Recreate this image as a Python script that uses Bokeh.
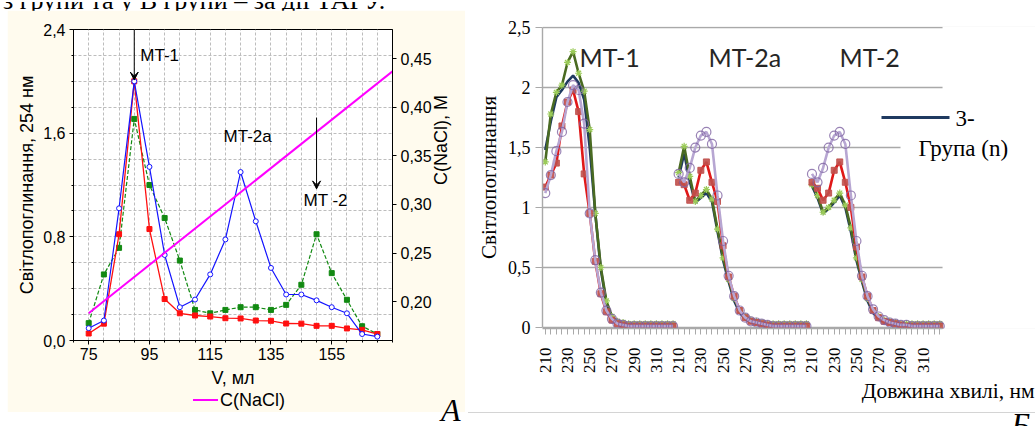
import math
from bokeh.plotting import figure
from bokeh.layouts import row, column
from bokeh.models import (Range1d, LinearAxis, FixedTicker, Label, Arrow, VeeHead, Title,
                          CustomJSTickFormatter, Div, Spacer)
from bokeh.embed import file_html
from bokeh.resources import INLINE

# ---------------- Panel A (elution profile) ----------------
volume_ml = [75, 80, 85, 90, 95, 100, 105, 110, 115, 120,
             125, 130, 135, 140, 145, 150, 155, 160, 165, 170]
red_a = [0.054, 0.13, 0.82, 2.00, 0.86, 0.32, 0.21, 0.193, 0.185, 0.172,
         0.17, 0.154, 0.152, 0.131, 0.13, 0.113, 0.113, 0.093, 0.082, 0.05]
blue_a = [0.095, 0.154, 1.02, 2.00, 1.34, 0.66, 0.257, 0.316, 0.51, 0.78,
          1.30, 0.92, 0.56, 0.355, 0.355, 0.31, 0.257, 0.21, 0.05, 0.03]
green_a = [0.134, 0.51, 0.715, 1.71, 1.20, 0.945, 0.617, 0.236, 0.21, 0.236,
           0.257, 0.257, 0.236, 0.275, 0.43, 0.82, 0.52, 0.314, 0.11, 0.05]
nacl_volume = [75, 175]
nacl_conc = [0.188, 0.437]
a_x_ticks = [75, 95, 115, 135, 155]
a_x_grid = [70, 75, 80, 85, 90, 95, 100, 105, 110, 115, 120, 125, 130, 135, 140,
            145, 150, 155, 160, 165, 170, 175]
a_y_ticks = [0.0, 0.8, 1.6, 2.4]
a_y_grid = [0.0, 0.2, 0.4, 0.6, 0.8, 1.0, 1.2, 1.4, 1.6, 1.8, 2.0, 2.2, 2.4]
a_y2_ticks = [0.20, 0.25, 0.30, 0.35, 0.40, 0.45]

# ---------------- Panel B (spectra) ----------------
wavelength_nm = [210, 215, 220, 225, 230, 235, 240, 245, 250, 255, 260, 265,
                 270, 275, 280, 285, 290, 295, 300, 305, 310, 315, 320, 325]
fractions = ["MT-1", "MT-2a", "MT-2"]
b_y_ticks = [0, 0.5, 1.0, 1.5, 2.0, 2.5]

navy_mt1 = [1.48, 1.72, 1.92, 1.98, 2.05, 2.10, 2.04, 1.90, 1.50, 0.95, 0.48, 0.20,
            0.08, 0.04, 0.02, 0.02, 0.01, 0.01, 0.01, 0.01, 0.01, 0.01, 0.01, 0.01]
green_mt1 = [1.38, 1.78, 1.96, 2.02, 2.21, 2.30, 2.12, 1.97, 1.65, 0.95, 0.50, 0.22,
             0.09, 0.05, 0.04, 0.03, 0.03, 0.03, 0.03, 0.03, 0.03, 0.03, 0.03, 0.03]
red_mt1 = [1.17, 1.27, 1.37, 1.68, 1.88, 1.98, 1.80, 1.28, 0.95, 0.55, 0.28, 0.13,
           0.06, 0.03, 0.02, 0.01, 0.01, 0.01, 0.01, 0.01, 0.01, 0.01, 0.01, 0.01]
purple_mt1 = [1.12, 1.27, 1.47, 1.63, 1.88, 2.02, 1.98, 1.70, 0.95, 0.56, 0.29, 0.14,
              0.07, 0.03, 0.02, 0.01, 0.01, 0.01, 0.01, 0.01, 0.01, 0.01, 0.01, 0.01]

navy_mt2a = [1.25, 1.45, 1.22, 1.04, 1.08, 1.12, 1.05, 0.80, 0.56, 0.38, 0.22, 0.12,
             0.07, 0.04, 0.03, 0.02, 0.02, 0.01, 0.01, 0.01, 0.01, 0.01, 0.01, 0.01]
green_mt2a = [1.29, 1.51, 1.26, 1.05, 1.10, 1.15, 1.07, 0.82, 0.58, 0.40, 0.24, 0.14,
              0.09, 0.06, 0.05, 0.04, 0.03, 0.03, 0.03, 0.03, 0.03, 0.03, 0.03, 0.03]
red_mt2a = [1.21, 1.19, 1.06, 1.12, 1.31, 1.38, 1.21, 1.05, 0.68, 0.42, 0.26, 0.14,
            0.08, 0.05, 0.04, 0.03, 0.02, 0.01, 0.01, 0.01, 0.01, 0.01, 0.01, 0.01]
purple_mt2a = [1.28, 1.21, 1.33, 1.50, 1.60, 1.63, 1.53, 1.10, 0.72, 0.43, 0.26, 0.14,
               0.08, 0.05, 0.04, 0.03, 0.02, 0.01, 0.01, 0.01, 0.01, 0.01, 0.01, 0.01]

navy_mt2 = [1.18, 1.08, 0.95, 0.99, 1.04, 1.10, 1.00, 0.80, 0.56, 0.38, 0.22, 0.12,
            0.07, 0.04, 0.03, 0.02, 0.02, 0.01, 0.01, 0.01, 0.01, 0.01, 0.01, 0.01]
green_mt2 = [1.19, 1.10, 0.96, 1.00, 1.06, 1.12, 1.02, 0.83, 0.58, 0.40, 0.24, 0.14,
             0.09, 0.06, 0.05, 0.04, 0.03, 0.03, 0.03, 0.03, 0.03, 0.03, 0.03, 0.03]
red_mt2 = [1.21, 1.16, 1.06, 1.12, 1.31, 1.38, 1.21, 1.00, 0.67, 0.42, 0.26, 0.14,
           0.08, 0.05, 0.04, 0.03, 0.02, 0.01, 0.01, 0.01, 0.01, 0.01, 0.01, 0.01]
purple_mt2 = [1.28, 1.21, 1.33, 1.50, 1.60, 1.63, 1.53, 1.10, 0.72, 0.43, 0.26, 0.15,
              0.09, 0.06, 0.04, 0.03, 0.02, 0.02, 0.01, 0.01, 0.01, 0.01, 0.01, 0.01]

navy_b = [navy_mt1, navy_mt2a, navy_mt2]
green_b = [green_mt1, green_mt2a, green_mt2]
red_b = [red_mt1, red_mt2a, red_mt2]
purple_b = [purple_mt1, purple_mt2a, purple_mt2]

CREAM = "#FFFBEE"
SANS = "Liberation Sans"
SERIF = "Liberation Serif"
MAGENTA = "#FF00FF"


def setp(obj, name, val):
    if name in obj.properties():
        try:
            setattr(obj, name, val)
            return True
        except Exception:
            return False
    return False


# ======================= Panel A =======================
pA = figure(width=458, height=402, x_range=Range1d(70, 175), y_range=Range1d(0, 2.4),
            output_backend="svg", toolbar_location=None,
            min_border_left=66, min_border_right=73, min_border_top=19, min_border_bottom=72,
            background_fill_color="white", border_fill_color=CREAM,
            outline_line_color="black", outline_line_width=1)
pA.extra_y_ranges = {"nacl": Range1d(0.16, 0.48)}

pA.xgrid.ticker = FixedTicker(ticks=a_x_grid)
pA.ygrid.ticker = FixedTicker(ticks=a_y_grid)
for g in (pA.xgrid, pA.ygrid):
    g.grid_line_color = "#BDBDBD"
    g.grid_line_dash = "3 2"
    g.grid_line_width = 1

xa = pA.xaxis[0]
xa.ticker = FixedTicker(ticks=a_x_ticks, minor_ticks=a_x_grid)
xa.axis_label = "V, мл"
ya = pA.yaxis[0]
ya.ticker = FixedTicker(ticks=a_y_ticks, minor_ticks=a_y_grid)
ya.formatter = CustomJSTickFormatter(code="return tick.toFixed(1).replace('.', ',');")
ya.axis_label = "Світлопоглинання, 254 нм"

y2 = LinearAxis(y_range_name="nacl", ticker=FixedTicker(ticks=a_y2_ticks),
                formatter=CustomJSTickFormatter(code="return tick.toFixed(2).replace('.', ',');"),
                axis_label="C(NaCl), M")
pA.add_layout(y2, "right")

for ax in (xa, ya, y2):
    ax.axis_line_color = "black"
    ax.major_tick_line_color = "black"
    ax.minor_tick_line_color = "black"
    ax.major_tick_out = 4
    ax.major_tick_in = 0
    ax.minor_tick_out = 2
    ax.minor_tick_in = 0
    ax.major_label_standoff = 4
    ax.major_label_text_font = SANS
    ax.major_label_text_font_size = "16px"
    ax.major_label_text_color = "black"
    ax.axis_label_text_font = SANS
    ax.axis_label_text_font_size = "18px"
    ax.axis_label_text_font_style = "normal"
    ax.axis_label_text_color = "black"
xa.major_label_standoff = 3
xa.axis_label_standoff = 5
ya.axis_label_standoff = 3
y2.axis_label_standoff = 6
setp(y2, "axis_label_orientation", math.pi / 2)

GREEN = "#128A12"
RED = "#FF1010"
BLUE = "#1414FF"
pA.line(volume_ml, green_a, line_color=GREEN, line_width=1.2, line_dash="4 2")
pA.scatter(volume_ml, green_a, marker="square", size=5, fill_color=GREEN, line_color=GREEN)
pA.line(volume_ml, red_a, line_color=RED, line_width=1.3)
pA.scatter(volume_ml, red_a, marker="square", size=5, fill_color=RED, line_color=RED)
pA.line(volume_ml, blue_a, line_color=BLUE, line_width=1.2)
pA.scatter(volume_ml, blue_a, marker="circle", size=5, fill_color="white", line_color=BLUE)
pA.line(nacl_volume, nacl_conc, y_range_name="nacl", line_color=MAGENTA, line_width=2)

pA.add_layout(Arrow(end=VeeHead(size=8, fill_color="black", line_color="black", line_width=1),
                    x_start=90, y_start=2.55, x_end=90, y_end=2.01,
                    line_color="black", line_width=1))
pA.add_layout(Arrow(end=VeeHead(size=8, fill_color="black", line_color="black", line_width=1),
                    x_start=150, y_start=1.72, x_end=150, y_end=1.17,
                    line_color="black", line_width=1))
for txt, lx, ly in ((fractions[0], 92.0, 2.2), (fractions[1], 119.4, 1.574), ("MT -2", 145.7, 1.08)):
    pA.add_layout(Label(x=lx, y=ly, text=txt, text_align="left", text_baseline="middle",
                        text_font=SANS, text_font_size="17px", text_color="black"))

# ======================= Panel B =======================
PX_CAT = 5.556


def bx(xref):
    return -0.5 + (xref - 542) / PX_CAT


def by(yref):
    return (327 - yref) / 120.0


ncat = 3 * len(wavelength_nm)
pB = figure(width=570, height=412, x_range=Range1d(-0.5, bx(1035)), y_range=Range1d(-0.01, 2.51),
            output_backend="svg", toolbar_location=None,
            min_border_left=77, min_border_right=0, min_border_top=26, min_border_bottom=84,
            background_fill_color="white", border_fill_color="white", outline_line_color=None)
pB.xgrid.visible = False
pB.ygrid.ticker = FixedTicker(ticks=b_y_ticks)
pB.ygrid.grid_line_color = "#A9A9A9"
pB.ygrid.grid_line_width = 1.4

bxa = pB.xaxis[0]
bxa.ticker = FixedTicker(ticks=list(range(ncat)))
bxa.major_label_overrides = {i: (str(wavelength_nm[i % 24]) if i % 4 == 0 else "") for i in range(ncat)}
bxa.major_label_orientation = math.pi / 2
bxa.bounds = (-0.5, ncat - 0.5)
bxa.major_tick_out = 6
bxa.major_tick_in = 0
bxa.minor_tick_line_color = None
bxa.major_label_standoff = 13
bya = pB.yaxis[0]
bya.ticker = FixedTicker(ticks=b_y_ticks)
bya.formatter = CustomJSTickFormatter(code="return String(tick).replace('.', ',');")
bya.bounds = (0, 2.5)
bya.major_tick_out = 7
bya.major_tick_in = 0
bya.minor_tick_line_color = None
bya.major_label_standoff = 5
bya.axis_label = "Світлопоглинання"
bya.axis_label_standoff = 4
for ax in (bxa, bya):
    ax.axis_line_color = "#A9A9A9"
    ax.axis_line_width = 1.4
    ax.major_tick_line_color = "#A9A9A9"
    ax.major_label_text_font = SERIF
    ax.major_label_text_font_size = "18px"
    ax.major_label_text_color = "black"
    ax.axis_label_text_font = SERIF
    ax.axis_label_text_font_size = "21px"
    ax.axis_label_text_font_style = "normal"
    ax.axis_label_text_color = "black"
bxa.major_label_text_font_size = "17px"

pB.add_layout(Title(text="Довжина хвилі, нм", align="right", text_font=SERIF,
                    text_font_size="21.5px", text_font_style="normal", text_color="black",
                    standoff=0, offset=1), "below")

# hide gridlines outside the plot area and behind the legend
pB.quad(left=ncat - 0.5, right=95, bottom=-0.1, top=2.6, fill_color="white", line_color=None)
pB.quad(left=bx(900), right=95, bottom=0.75, top=1.9, fill_color="white", line_color=None)

NAVY = "#1F3A60"
DKGREEN = "#4A6B22"
LTGREEN = "#9BCB59"
BRED = "#E01818"
MRED = "#C0504D"
LPURPLE = "#B7A6D2"
DPURPLE = "#8064A2"
for g in range(3):
    xs = [g * 24 + i for i in range(24)]
    pB.line(xs, navy_b[g], line_color=NAVY, line_width=2.6)
    pB.line(xs, green_b[g], line_color=DKGREEN, line_width=2.6)
    pB.scatter(xs, green_b[g], marker="asterisk", size=7, line_color=LTGREEN, line_width=1.2)
    pB.line(xs, red_b[g], line_color=BRED, line_width=2.6)
    pB.scatter(xs, red_b[g], marker="square", size=6, fill_color=MRED, line_color=MRED, alpha=0.9)
    pB.line(xs, purple_b[g], line_color=LPURPLE, line_width=2.6)
    pB.scatter(xs, purple_b[g], marker="circle", size=9, fill_color=None, line_color=DPURPLE,
               line_width=1.2, line_alpha=0.8)

for txt, xref in zip(fractions, (579, 708, 839)):
    pB.add_layout(Label(x=bx(xref), y=by(56), text=txt, text_align="left", text_baseline="middle",
                        text_font="Lato", text_font_size="25px", text_color="#262626"))

pB.segment(x0=[bx(881)], y0=[by(117)], x1=[bx(949)], y1=[by(117)], line_color=NAVY, line_width=3)
pB.add_layout(Label(x=bx(955), y=by(118), text="3-", text_align="left", text_baseline="middle",
                    text_font=SERIF, text_font_size="23px", text_color="black"))
pB.add_layout(Label(x=bx(918), y=by(148), text="Група (n)", text_align="left", text_baseline="middle",
                    text_font=SERIF, text_font_size="23px", text_color="black"))

# ======================= page pieces =======================
top_div = Div(width=465, height=10, margin=(0, 0, 0, 0), text=(
    '<div style="position:relative;width:465px;height:10px;overflow:hidden;">'
    '<span style="position:absolute;left:3px;top:-14px;font-family:\'Liberation Serif\';'
    'font-size:26px;line-height:26px;white-space:nowrap;color:#000;">'
    'з групи та у В групи – за дії ТАГУ.</span></div>'))
div_a = Div(width=465, height=14, margin=(0, 0, 0, 0), text=(
    '<div style="position:relative;width:465px;height:14px;">'
    '<div style="position:absolute;left:193px;top:-13px;width:25px;height:2px;background:' + MAGENTA + ';"></div>'
    '<span style="position:absolute;left:220px;top:-22px;font-family:\'Liberation Sans\';'
    'font-size:18px;line-height:20px;white-space:nowrap;color:#000;">C(NaCl)</span>'
    '<span style="position:absolute;left:441px;top:-14px;font-family:\'Liberation Serif\';'
    'font-style:italic;font-size:32px;line-height:24px;white-space:nowrap;color:#000;">A</span></div>'))
div_b = Div(width=570, height=14, margin=(0, 0, 0, 0), text=(
    '<div style="position:relative;width:570px;height:14px;overflow:hidden;">'
    '<div style="position:absolute;left:3px;top:0px;width:567px;height:1px;background:#D4D4D4;"></div>'
    '<span style="position:absolute;right:5px;top:-4px;font-family:\'Liberation Serif\';'
    'font-style:italic;font-size:32px;line-height:32px;white-space:nowrap;color:#000;">Б</span></div>'))

left_col = column(top_div, row(Spacer(width=7, height=402, margin=(0, 0, 0, 0)), pA), div_a)
right_col = column(pB, div_b)
layout = row(left_col, right_col)
open("out.html", "w").write(file_html(layout, INLINE, title="Світлопоглинання"))
